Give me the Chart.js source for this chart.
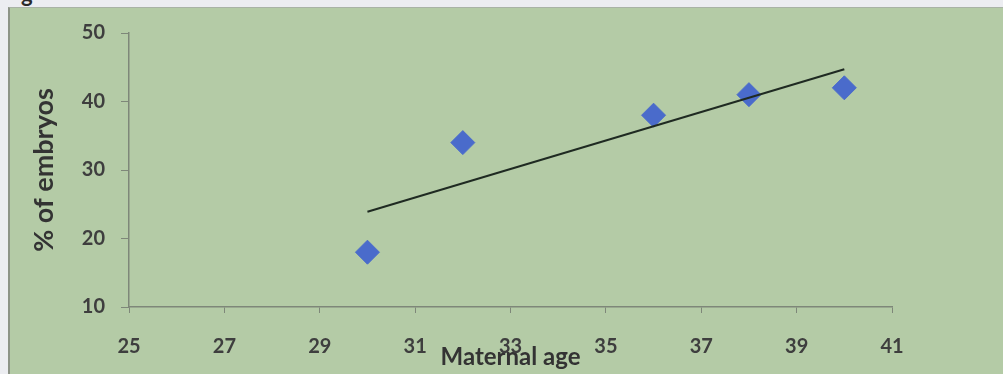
<!DOCTYPE html>
<html lang="en">
<head>
    <meta charset="UTF-8">
    <title>Maternal age vs % of embryos</title>
    <script src="https://cdn.jsdelivr.net/npm/chart.js"></script>
    <style>
        body {
            margin: 0;
            width: 1003px;
            height: 374px;
            overflow: hidden;
            background-color: #ecedf1;
            position: relative;
            font-family: Lato, Arial, sans-serif;
        }
        .frame {
            position: absolute;
            left: 8px;
            top: 7px;
            right: 0;
            bottom: 0;
            background-color: #b4cba6;
            border-left: 2px solid #8d9487;
            border-top: 1px solid #a9b3a6;
        }
        .cut {
            position: absolute;
            left: 21px;
            top: -20px;
            font-size: 22px;
            font-weight: bold;
            color: #2a2a2a;
        }
        canvas {
            position: absolute;
            left: 0;
            top: 0;
        }
    </style>
</head>
<body>
<div class="frame"></div>
<div class="cut">g</div>
<canvas id="ageChart" width="1003" height="374"></canvas>

<script>
    // values
    const ages = [30, 32, 36, 38, 40];
    const embryoPct = [18, 34, 38, 41, 42];
    // linear trendline endpoints (as drawn)
    const trendAges = [30, 40];
    const trendPct = [23.9, 44.7];
    const xTicks = [25, 27, 29, 31, 33, 35, 37, 39, 41];
    const yTicks = [10, 20, 30, 40, 50];

    Chart.defaults.font.family = "Lato, Arial, sans-serif";
    const axisColor = "#7e8779";
    const textColor = "#3e3e3e";

    new Chart(document.getElementById("ageChart"), {
        type: "scatter",
        data: {
            datasets: [
                {
                    label: "% of embryos",
                    data: ages.map((a, i) => ({ x: a, y: embryoPct[i] })),
                    pointStyle: "rectRot",
                    pointRadius: 12,
                    pointHoverRadius: 12,
                    backgroundColor: "#4a6bcb",
                    borderColor: "#4a6bcb",
                    borderWidth: 1,
                    order: 2
                },
                {
                    label: "Linear",
                    type: "line",
                    data: trendAges.map((a, i) => ({ x: a, y: trendPct[i] })),
                    borderColor: "#1f2a22",
                    borderWidth: 2,
                    pointRadius: 0,
                    fill: false,
                    order: 1
                }
            ]
        },
        options: {
            responsive: false,
            animation: false,
            layout: { padding: { left: 0, top: 33, right: 111, bottom: 0 } },
            plugins: {
                legend: { display: false },
                tooltip: { enabled: false }
            },
            scales: {
                x: {
                    type: "linear",
                    min: 25,
                    max: 41,
                    afterBuildTicks: (scale) => { scale.ticks = xTicks.map(v => ({ value: v })); },
                    afterFit: (scale) => { scale.height = 67; },
                    grid: { display: true, drawOnChartArea: false, drawTicks: true, tickLength: 6, color: axisColor },
                    border: { display: true, color: axisColor, width: 1.5 },
                    ticks: { padding: 22, color: textColor, font: { size: 20, weight: "bold" } },
                    title: {
                        display: true,
                        text: "Maternal age",
                        color: "#333333",
                        font: { size: 24, weight: "bold" },
                        padding: { top: 0, bottom: 2 }
                    }
                },
                y: {
                    min: 10,
                    max: 50,
                    afterBuildTicks: (scale) => { scale.ticks = yTicks.map(v => ({ value: v })); },
                    afterFit: (scale) => { scale.width = 129; },
                    grid: { display: true, drawOnChartArea: false, drawTicks: true, tickLength: 8, color: axisColor },
                    border: { display: true, color: axisColor, width: 1.5 },
                    ticks: { padding: 16, color: textColor, font: { size: 20, weight: "bold" } },
                    title: {
                        display: true,
                        text: "% of embryos",
                        color: "#333333",
                        font: { size: 27, weight: "bold" },
                        padding: { top: 28, bottom: 0 }
                    }
                }
            }
        }
    });
</script>
</body>
</html>
